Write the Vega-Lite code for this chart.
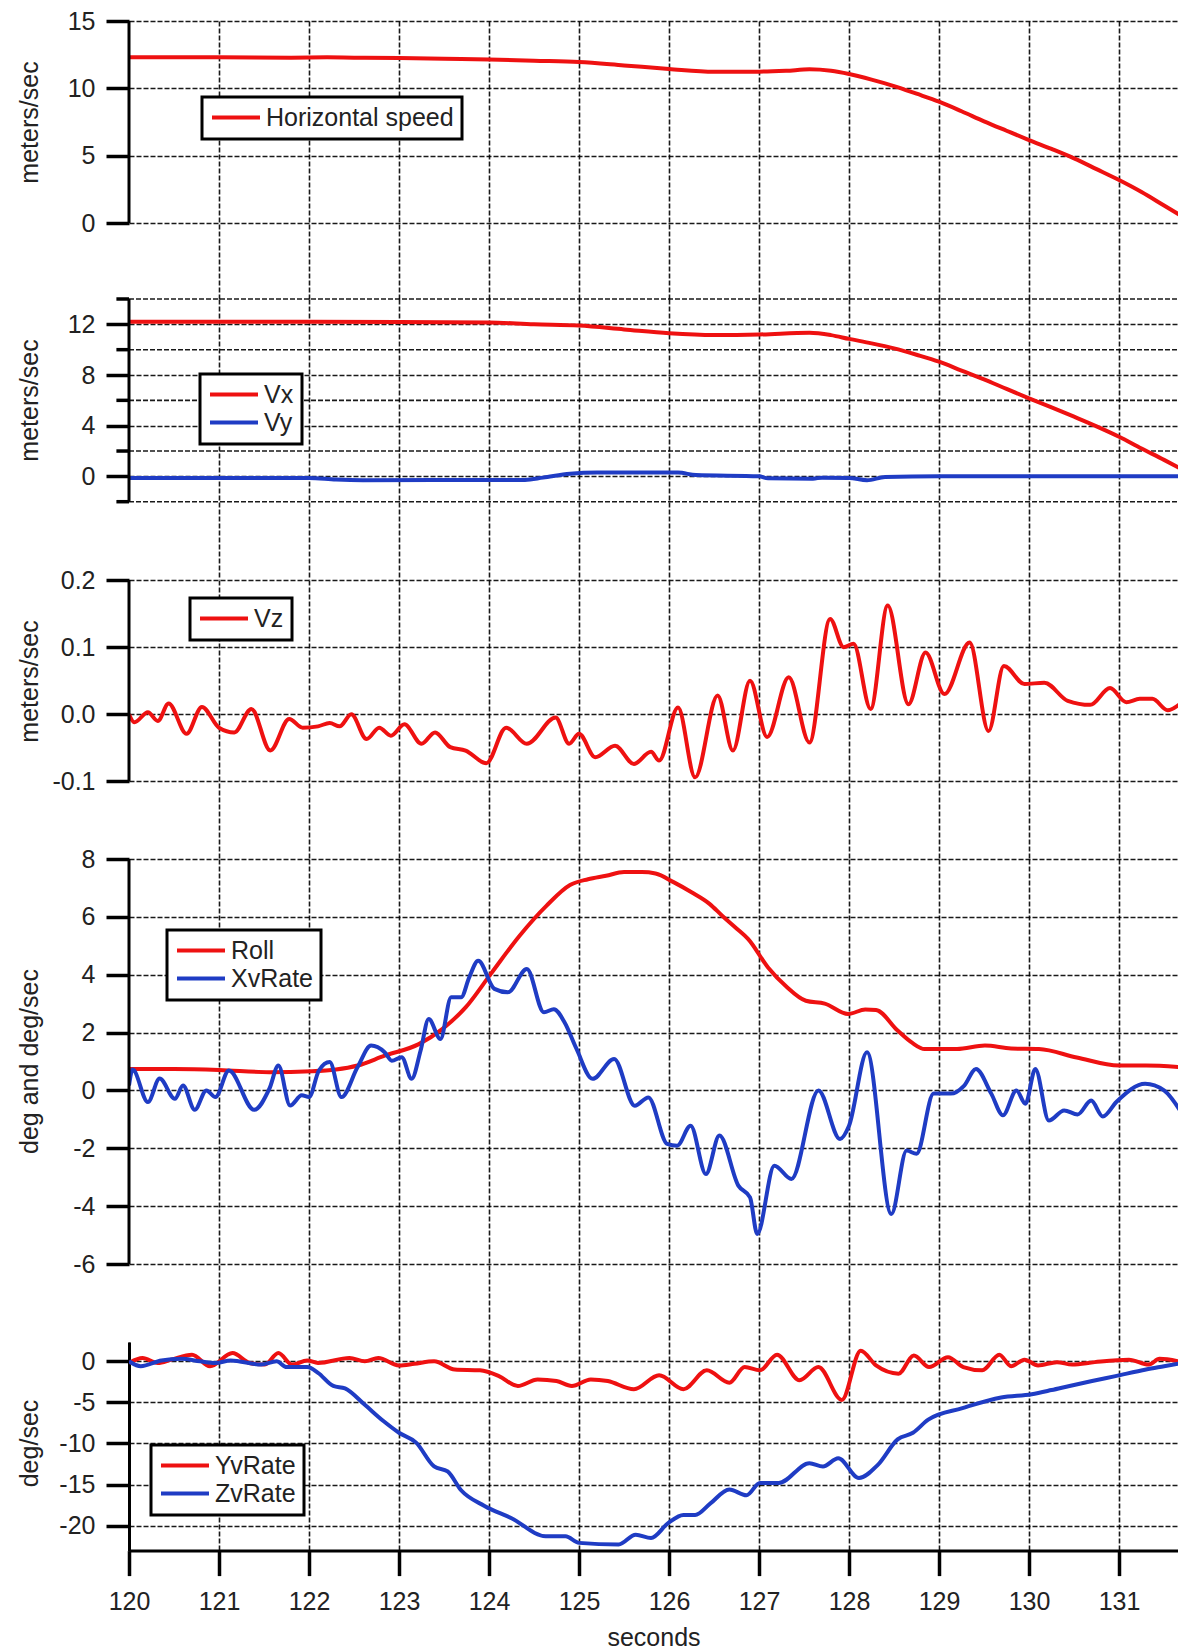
{
"$schema": "https://vega.github.io/schema/vega-lite/v6.json",
"padding": {"left": 16, "top": 9, "right": 0, "bottom": 0},
"background": "white",
"spacing": 0,
"bounds": "flush",
"resolve": {"scale": {"color": "independent", "x": "independent", "y": "independent"}, "legend": {"color": "independent"}},
"config": {
  "view": {"stroke": null},
  "font": "Liberation Sans",
  "axis": {"labelFont": "Liberation Sans", "labelFontSize": 25, "labelColor": "#222", "labelOverlap": false, "titleFont": "Liberation Sans", "titleFontSize": 25, "titleFontWeight": "normal", "titleColor": "#222", "tickColor": "black", "tickWidth": 3.5, "tickSize": 23, "domainColor": "black", "domainWidth": 3, "gridColor": "#000", "gridWidth": 1.6, "gridDash": [5, 2], "gridOpacity": 0.9, "labelPadding": 11, "labelExpr": "replace(datum.label, '\u2212', '-')"},
  "legend": {"symbolType": "stroke", "symbolSize": 2304, "symbolStrokeWidth": 4, "labelFont": "Liberation Sans", "labelFontSize": 25, "labelColor": "#222", "labelLimit": 400, "clipHeight": 25, "rowPadding": 2, "padding": 8, "strokeColor": "black", "fillColor": "white", "labelOffset": 4, "title": null}
},
"datasets": {
  "p1": [
    {"t": 120, "v": 12.3, "s": "Horizontal speed"}, {"t": 121, "v": 12.3, "s": "Horizontal speed"}, {"t": 121.8, "v": 12.28, "s": "Horizontal speed"}, {"t": 122.2, "v": 12.3, "s": "Horizontal speed"}, {"t": 122.5, "v": 12.27, "s": "Horizontal speed"}, {"t": 123, "v": 12.25, "s": "Horizontal speed"}, {"t": 123.5, "v": 12.2, "s": "Horizontal speed"}, {"t": 124, "v": 12.15, "s": "Horizontal speed"}, {"t": 124.5, "v": 12.05, "s": "Horizontal speed"}, {"t": 125, "v": 11.95, "s": "Horizontal speed"}, {"t": 125.5, "v": 11.7, "s": "Horizontal speed"}, {"t": 126, "v": 11.44, "s": "Horizontal speed"}, {"t": 126.5, "v": 11.24, "s": "Horizontal speed"}, {"t": 127, "v": 11.24, "s": "Horizontal speed"}, {"t": 127.3, "v": 11.3, "s": "Horizontal speed"}, {"t": 127.56, "v": 11.41, "s": "Horizontal speed"}, {"t": 127.8, "v": 11.3, "s": "Horizontal speed"}, {"t": 128, "v": 11.06, "s": "Horizontal speed"}, {"t": 128.25, "v": 10.65, "s": "Horizontal speed"}, {"t": 128.5, "v": 10.17, "s": "Horizontal speed"}, {"t": 128.75, "v": 9.6, "s": "Horizontal speed"}, {"t": 129, "v": 9.01, "s": "Horizontal speed"}, {"t": 129.25, "v": 8.3, "s": "Horizontal speed"}, {"t": 129.5, "v": 7.55, "s": "Horizontal speed"}, {"t": 129.75, "v": 6.85, "s": "Horizontal speed"}, {"t": 130, "v": 6.16, "s": "Horizontal speed"}, {"t": 130.25, "v": 5.5, "s": "Horizontal speed"}, {"t": 130.5, "v": 4.8, "s": "Horizontal speed"}, {"t": 130.75, "v": 4.0, "s": "Horizontal speed"}, {"t": 131, "v": 3.19, "s": "Horizontal speed"}, {"t": 131.25, "v": 2.3, "s": "Horizontal speed"}, {"t": 131.5, "v": 1.3, "s": "Horizontal speed"}, {"t": 131.7, "v": 0.5, "s": "Horizontal speed"}
  ],
  "p2minor": [{"m": -2}, {"m": 2}, {"m": 6}, {"m": 10}, {"m": 14}],
  "p2": [
    {"t": 120, "v": 12.2, "s": "Vx"}, {"t": 122, "v": 12.2, "s": "Vx"}, {"t": 123, "v": 12.18, "s": "Vx"}, {"t": 124, "v": 12.15, "s": "Vx"}, {"t": 124.5, "v": 12.0, "s": "Vx"}, {"t": 125, "v": 11.9, "s": "Vx"}, {"t": 125.5, "v": 11.6, "s": "Vx"}, {"t": 126, "v": 11.3, "s": "Vx"}, {"t": 126.5, "v": 11.16, "s": "Vx"}, {"t": 127, "v": 11.2, "s": "Vx"}, {"t": 127.56, "v": 11.34, "s": "Vx"}, {"t": 127.8, "v": 11.15, "s": "Vx"}, {"t": 128, "v": 10.85, "s": "Vx"}, {"t": 128.25, "v": 10.5, "s": "Vx"}, {"t": 128.5, "v": 10.1, "s": "Vx"}, {"t": 128.75, "v": 9.6, "s": "Vx"}, {"t": 129, "v": 9.05, "s": "Vx"}, {"t": 129.25, "v": 8.35, "s": "Vx"}, {"t": 129.5, "v": 7.66, "s": "Vx"}, {"t": 129.75, "v": 6.9, "s": "Vx"}, {"t": 130, "v": 6.16, "s": "Vx"}, {"t": 130.25, "v": 5.45, "s": "Vx"}, {"t": 130.5, "v": 4.71, "s": "Vx"}, {"t": 130.75, "v": 3.95, "s": "Vx"}, {"t": 131, "v": 3.13, "s": "Vx"}, {"t": 131.25, "v": 2.2, "s": "Vx"}, {"t": 131.5, "v": 1.3, "s": "Vx"}, {"t": 131.7, "v": 0.55, "s": "Vx"},
    {"t": 120, "v": -0.12, "s": "Vy"}, {"t": 122, "v": -0.12, "s": "Vy"}, {"t": 122.3, "v": -0.25, "s": "Vy"}, {"t": 122.6, "v": -0.3, "s": "Vy"}, {"t": 124.4, "v": -0.28, "s": "Vy"}, {"t": 124.6, "v": -0.1, "s": "Vy"}, {"t": 124.9, "v": 0.2, "s": "Vy"}, {"t": 125.2, "v": 0.3, "s": "Vy"}, {"t": 126.1, "v": 0.3, "s": "Vy"}, {"t": 126.3, "v": 0.1, "s": "Vy"}, {"t": 127.0, "v": 0.0, "s": "Vy"}, {"t": 127.1, "v": -0.15, "s": "Vy"}, {"t": 127.6, "v": -0.18, "s": "Vy"}, {"t": 127.7, "v": -0.1, "s": "Vy"}, {"t": 128.0, "v": -0.12, "s": "Vy"}, {"t": 128.2, "v": -0.3, "s": "Vy"}, {"t": 128.4, "v": -0.05, "s": "Vy"}, {"t": 129, "v": 0.0, "s": "Vy"}, {"t": 131.7, "v": 0.0, "s": "Vy"}
  ],
  "p3": [
    {"t": 120.0, "v": 0.0, "s": "Vz"}, {"t": 120.06, "v": -0.012, "s": "Vz"}, {"t": 120.21, "v": 0.003, "s": "Vz"}, {"t": 120.32, "v": -0.01, "s": "Vz"}, {"t": 120.44, "v": 0.016, "s": "Vz"}, {"t": 120.64, "v": -0.029, "s": "Vz"}, {"t": 120.81, "v": 0.011, "s": "Vz"}, {"t": 121.0, "v": -0.02, "s": "Vz"}, {"t": 121.17, "v": -0.027, "s": "Vz"}, {"t": 121.36, "v": 0.008, "s": "Vz"}, {"t": 121.57, "v": -0.054, "s": "Vz"}, {"t": 121.78, "v": -0.007, "s": "Vz"}, {"t": 121.93, "v": -0.02, "s": "Vz"}, {"t": 122.1, "v": -0.018, "s": "Vz"}, {"t": 122.23, "v": -0.013, "s": "Vz"}, {"t": 122.34, "v": -0.018, "s": "Vz"}, {"t": 122.47, "v": 0.0, "s": "Vz"}, {"t": 122.64, "v": -0.037, "s": "Vz"}, {"t": 122.78, "v": -0.02, "s": "Vz"}, {"t": 122.91, "v": -0.032, "s": "Vz"}, {"t": 123.06, "v": -0.015, "s": "Vz"}, {"t": 123.25, "v": -0.044, "s": "Vz"}, {"t": 123.4, "v": -0.027, "s": "Vz"}, {"t": 123.57, "v": -0.049, "s": "Vz"}, {"t": 123.74, "v": -0.054, "s": "Vz"}, {"t": 123.97, "v": -0.073, "s": "Vz"}, {"t": 124.19, "v": -0.02, "s": "Vz"}, {"t": 124.42, "v": -0.044, "s": "Vz"}, {"t": 124.74, "v": -0.005, "s": "Vz"}, {"t": 124.89, "v": -0.044, "s": "Vz"}, {"t": 125.0, "v": -0.029, "s": "Vz"}, {"t": 125.18, "v": -0.064, "s": "Vz"}, {"t": 125.4, "v": -0.047, "s": "Vz"}, {"t": 125.61, "v": -0.074, "s": "Vz"}, {"t": 125.8, "v": -0.056, "s": "Vz"}, {"t": 125.89, "v": -0.069, "s": "Vz"}, {"t": 126.1, "v": 0.01, "s": "Vz"}, {"t": 126.29, "v": -0.094, "s": "Vz"}, {"t": 126.54, "v": 0.028, "s": "Vz"}, {"t": 126.71, "v": -0.054, "s": "Vz"}, {"t": 126.9, "v": 0.05, "s": "Vz"}, {"t": 127.09, "v": -0.034, "s": "Vz"}, {"t": 127.33, "v": 0.055, "s": "Vz"}, {"t": 127.56, "v": -0.042, "s": "Vz"}, {"t": 127.79, "v": 0.142, "s": "Vz"}, {"t": 127.94, "v": 0.1, "s": "Vz"}, {"t": 128.05, "v": 0.105, "s": "Vz"}, {"t": 128.24, "v": 0.008, "s": "Vz"}, {"t": 128.43, "v": 0.162, "s": "Vz"}, {"t": 128.66, "v": 0.015, "s": "Vz"}, {"t": 128.85, "v": 0.092, "s": "Vz"}, {"t": 129.06, "v": 0.03, "s": "Vz"}, {"t": 129.34, "v": 0.107, "s": "Vz"}, {"t": 129.55, "v": -0.025, "s": "Vz"}, {"t": 129.72, "v": 0.072, "s": "Vz"}, {"t": 129.95, "v": 0.045, "s": "Vz"}, {"t": 130.17, "v": 0.047, "s": "Vz"}, {"t": 130.43, "v": 0.02, "s": "Vz"}, {"t": 130.68, "v": 0.014, "s": "Vz"}, {"t": 130.9, "v": 0.039, "s": "Vz"}, {"t": 131.08, "v": 0.018, "s": "Vz"}, {"t": 131.23, "v": 0.023, "s": "Vz"}, {"t": 131.37, "v": 0.023, "s": "Vz"}, {"t": 131.54, "v": 0.006, "s": "Vz"}, {"t": 131.7, "v": 0.018, "s": "Vz"}
  ],
  "p4": [
    {"t": 120.0, "v": 0.74, "s": "Roll"}, {"t": 120.5, "v": 0.74, "s": "Roll"}, {"t": 121.0, "v": 0.71, "s": "Roll"}, {"t": 121.56, "v": 0.63, "s": "Roll"}, {"t": 122.03, "v": 0.66, "s": "Roll"}, {"t": 122.3, "v": 0.72, "s": "Roll"}, {"t": 122.54, "v": 0.86, "s": "Roll"}, {"t": 122.84, "v": 1.2, "s": "Roll"}, {"t": 123.22, "v": 1.6, "s": "Roll"}, {"t": 123.48, "v": 2.12, "s": "Roll"}, {"t": 123.74, "v": 2.87, "s": "Roll"}, {"t": 124.02, "v": 4.03, "s": "Roll"}, {"t": 124.34, "v": 5.35, "s": "Roll"}, {"t": 124.64, "v": 6.39, "s": "Roll"}, {"t": 124.9, "v": 7.1, "s": "Roll"}, {"t": 125.1, "v": 7.3, "s": "Roll"}, {"t": 125.3, "v": 7.42, "s": "Roll"}, {"t": 125.5, "v": 7.55, "s": "Roll"}, {"t": 125.7, "v": 7.55, "s": "Roll"}, {"t": 125.85, "v": 7.5, "s": "Roll"}, {"t": 126.05, "v": 7.2, "s": "Roll"}, {"t": 126.25, "v": 6.85, "s": "Roll"}, {"t": 126.45, "v": 6.45, "s": "Roll"}, {"t": 126.59, "v": 6.04, "s": "Roll"}, {"t": 126.75, "v": 5.6, "s": "Roll"}, {"t": 126.88, "v": 5.23, "s": "Roll"}, {"t": 127.1, "v": 4.25, "s": "Roll"}, {"t": 127.3, "v": 3.6, "s": "Roll"}, {"t": 127.52, "v": 3.1, "s": "Roll"}, {"t": 127.73, "v": 3.0, "s": "Roll"}, {"t": 127.99, "v": 2.64, "s": "Roll"}, {"t": 128.18, "v": 2.8, "s": "Roll"}, {"t": 128.3, "v": 2.78, "s": "Roll"}, {"t": 128.54, "v": 2.07, "s": "Roll"}, {"t": 128.7, "v": 1.65, "s": "Roll"}, {"t": 128.84, "v": 1.43, "s": "Roll"}, {"t": 129.2, "v": 1.43, "s": "Roll"}, {"t": 129.51, "v": 1.55, "s": "Roll"}, {"t": 129.8, "v": 1.45, "s": "Roll"}, {"t": 130.11, "v": 1.43, "s": "Roll"}, {"t": 130.53, "v": 1.14, "s": "Roll"}, {"t": 131.0, "v": 0.86, "s": "Roll"}, {"t": 131.3, "v": 0.86, "s": "Roll"}, {"t": 131.7, "v": 0.8, "s": "Roll"},
    {"t": 120.0, "v": 0.17, "s": "XvRate"}, {"t": 120.04, "v": 0.72, "s": "XvRate"}, {"t": 120.21, "v": -0.4, "s": "XvRate"}, {"t": 120.34, "v": 0.41, "s": "XvRate"}, {"t": 120.51, "v": -0.29, "s": "XvRate"}, {"t": 120.6, "v": 0.17, "s": "XvRate"}, {"t": 120.73, "v": -0.67, "s": "XvRate"}, {"t": 120.86, "v": 0.0, "s": "XvRate"}, {"t": 120.96, "v": -0.23, "s": "XvRate"}, {"t": 121.11, "v": 0.69, "s": "XvRate"}, {"t": 121.39, "v": -0.67, "s": "XvRate"}, {"t": 121.56, "v": 0.06, "s": "XvRate"}, {"t": 121.66, "v": 0.86, "s": "XvRate"}, {"t": 121.79, "v": -0.52, "s": "XvRate"}, {"t": 121.92, "v": -0.17, "s": "XvRate"}, {"t": 122.0, "v": -0.23, "s": "XvRate"}, {"t": 122.11, "v": 0.69, "s": "XvRate"}, {"t": 122.23, "v": 0.98, "s": "XvRate"}, {"t": 122.36, "v": -0.23, "s": "XvRate"}, {"t": 122.54, "v": 0.81, "s": "XvRate"}, {"t": 122.69, "v": 1.55, "s": "XvRate"}, {"t": 122.84, "v": 1.32, "s": "XvRate"}, {"t": 122.92, "v": 1.03, "s": "XvRate"}, {"t": 123.03, "v": 1.15, "s": "XvRate"}, {"t": 123.14, "v": 0.4, "s": "XvRate"}, {"t": 123.24, "v": 1.38, "s": "XvRate"}, {"t": 123.33, "v": 2.47, "s": "XvRate"}, {"t": 123.46, "v": 1.78, "s": "XvRate"}, {"t": 123.58, "v": 3.22, "s": "XvRate"}, {"t": 123.69, "v": 3.22, "s": "XvRate"}, {"t": 123.78, "v": 3.91, "s": "XvRate"}, {"t": 123.88, "v": 4.48, "s": "XvRate"}, {"t": 124.06, "v": 3.51, "s": "XvRate"}, {"t": 124.21, "v": 3.39, "s": "XvRate"}, {"t": 124.42, "v": 4.2, "s": "XvRate"}, {"t": 124.61, "v": 2.7, "s": "XvRate"}, {"t": 124.72, "v": 2.81, "s": "XvRate"}, {"t": 124.84, "v": 2.35, "s": "XvRate"}, {"t": 124.97, "v": 1.45, "s": "XvRate"}, {"t": 125.15, "v": 0.4, "s": "XvRate"}, {"t": 125.39, "v": 1.09, "s": "XvRate"}, {"t": 125.62, "v": -0.53, "s": "XvRate"}, {"t": 125.77, "v": -0.24, "s": "XvRate"}, {"t": 125.98, "v": -1.85, "s": "XvRate"}, {"t": 126.09, "v": -1.91, "s": "XvRate"}, {"t": 126.24, "v": -1.22, "s": "XvRate"}, {"t": 126.41, "v": -2.89, "s": "XvRate"}, {"t": 126.56, "v": -1.56, "s": "XvRate"}, {"t": 126.77, "v": -3.29, "s": "XvRate"}, {"t": 126.9, "v": -3.7, "s": "XvRate"}, {"t": 126.98, "v": -4.96, "s": "XvRate"}, {"t": 127.17, "v": -2.6, "s": "XvRate"}, {"t": 127.36, "v": -3.06, "s": "XvRate"}, {"t": 127.66, "v": 0.0, "s": "XvRate"}, {"t": 127.9, "v": -1.68, "s": "XvRate"}, {"t": 128.0, "v": -1.22, "s": "XvRate"}, {"t": 128.2, "v": 1.32, "s": "XvRate"}, {"t": 128.47, "v": -4.27, "s": "XvRate"}, {"t": 128.64, "v": -2.08, "s": "XvRate"}, {"t": 128.75, "v": -2.19, "s": "XvRate"}, {"t": 128.94, "v": -0.11, "s": "XvRate"}, {"t": 129.13, "v": -0.11, "s": "XvRate"}, {"t": 129.28, "v": 0.17, "s": "XvRate"}, {"t": 129.41, "v": 0.74, "s": "XvRate"}, {"t": 129.58, "v": -0.11, "s": "XvRate"}, {"t": 129.71, "v": -0.86, "s": "XvRate"}, {"t": 129.86, "v": 0.0, "s": "XvRate"}, {"t": 129.96, "v": -0.46, "s": "XvRate"}, {"t": 130.07, "v": 0.74, "s": "XvRate"}, {"t": 130.22, "v": -1.04, "s": "XvRate"}, {"t": 130.39, "v": -0.69, "s": "XvRate"}, {"t": 130.54, "v": -0.83, "s": "XvRate"}, {"t": 130.69, "v": -0.35, "s": "XvRate"}, {"t": 130.82, "v": -0.9, "s": "XvRate"}, {"t": 130.97, "v": -0.4, "s": "XvRate"}, {"t": 131.29, "v": 0.23, "s": "XvRate"}, {"t": 131.5, "v": 0.0, "s": "XvRate"}, {"t": 131.7, "v": -0.8, "s": "XvRate"}
  ],
  "p5": [
    {"t": 120, "v": -0.2, "s": "YvRate"}, {"t": 120.15, "v": 0.4, "s": "YvRate"}, {"t": 120.32, "v": -0.2, "s": "YvRate"}, {"t": 120.47, "v": 0.2, "s": "YvRate"}, {"t": 120.7, "v": 0.8, "s": "YvRate"}, {"t": 120.9, "v": -0.6, "s": "YvRate"}, {"t": 121.15, "v": 1.0, "s": "YvRate"}, {"t": 121.34, "v": -0.2, "s": "YvRate"}, {"t": 121.51, "v": -0.4, "s": "YvRate"}, {"t": 121.66, "v": 1.0, "s": "YvRate"}, {"t": 121.81, "v": -0.4, "s": "YvRate"}, {"t": 121.98, "v": 0.1, "s": "YvRate"}, {"t": 122.1, "v": -0.2, "s": "YvRate"}, {"t": 122.45, "v": 0.4, "s": "YvRate"}, {"t": 122.62, "v": 0.0, "s": "YvRate"}, {"t": 122.77, "v": 0.4, "s": "YvRate"}, {"t": 123.0, "v": -0.5, "s": "YvRate"}, {"t": 123.17, "v": -0.3, "s": "YvRate"}, {"t": 123.39, "v": 0.0, "s": "YvRate"}, {"t": 123.62, "v": -1.0, "s": "YvRate"}, {"t": 123.9, "v": -1.1, "s": "YvRate"}, {"t": 124.11, "v": -1.8, "s": "YvRate"}, {"t": 124.32, "v": -3.0, "s": "YvRate"}, {"t": 124.54, "v": -2.2, "s": "YvRate"}, {"t": 124.75, "v": -2.4, "s": "YvRate"}, {"t": 124.92, "v": -3.0, "s": "YvRate"}, {"t": 125.13, "v": -2.2, "s": "YvRate"}, {"t": 125.32, "v": -2.4, "s": "YvRate"}, {"t": 125.61, "v": -3.4, "s": "YvRate"}, {"t": 125.89, "v": -1.7, "s": "YvRate"}, {"t": 126.16, "v": -3.4, "s": "YvRate"}, {"t": 126.42, "v": -1.1, "s": "YvRate"}, {"t": 126.67, "v": -2.6, "s": "YvRate"}, {"t": 126.84, "v": -0.7, "s": "YvRate"}, {"t": 127.01, "v": -1.1, "s": "YvRate"}, {"t": 127.2, "v": 0.8, "s": "YvRate"}, {"t": 127.45, "v": -2.3, "s": "YvRate"}, {"t": 127.66, "v": -0.7, "s": "YvRate"}, {"t": 127.92, "v": -4.7, "s": "YvRate"}, {"t": 128.13, "v": 1.3, "s": "YvRate"}, {"t": 128.3, "v": -0.5, "s": "YvRate"}, {"t": 128.55, "v": -1.5, "s": "YvRate"}, {"t": 128.72, "v": 0.7, "s": "YvRate"}, {"t": 128.89, "v": -0.7, "s": "YvRate"}, {"t": 129.1, "v": 0.5, "s": "YvRate"}, {"t": 129.27, "v": -0.7, "s": "YvRate"}, {"t": 129.48, "v": -1.1, "s": "YvRate"}, {"t": 129.67, "v": 0.8, "s": "YvRate"}, {"t": 129.8, "v": -0.6, "s": "YvRate"}, {"t": 129.95, "v": 0.2, "s": "YvRate"}, {"t": 130.1, "v": -0.5, "s": "YvRate"}, {"t": 130.31, "v": -0.1, "s": "YvRate"}, {"t": 130.48, "v": -0.4, "s": "YvRate"}, {"t": 130.73, "v": -0.1, "s": "YvRate"}, {"t": 131.11, "v": 0.2, "s": "YvRate"}, {"t": 131.33, "v": -0.4, "s": "YvRate"}, {"t": 131.45, "v": 0.3, "s": "YvRate"}, {"t": 131.7, "v": -0.1, "s": "YvRate"},
    {"t": 120, "v": 0.0, "s": "ZvRate"}, {"t": 120.13, "v": -0.6, "s": "ZvRate"}, {"t": 120.36, "v": 0.1, "s": "ZvRate"}, {"t": 120.58, "v": 0.3, "s": "ZvRate"}, {"t": 120.79, "v": 0.0, "s": "ZvRate"}, {"t": 120.96, "v": -0.2, "s": "ZvRate"}, {"t": 121.13, "v": 0.1, "s": "ZvRate"}, {"t": 121.47, "v": -0.4, "s": "ZvRate"}, {"t": 121.64, "v": 0.0, "s": "ZvRate"}, {"t": 121.75, "v": -0.7, "s": "ZvRate"}, {"t": 121.98, "v": -0.7, "s": "ZvRate"}, {"t": 122.1, "v": -1.4, "s": "ZvRate"}, {"t": 122.27, "v": -3.0, "s": "ZvRate"}, {"t": 122.4, "v": -3.3, "s": "ZvRate"}, {"t": 122.62, "v": -5.3, "s": "ZvRate"}, {"t": 122.83, "v": -7.3, "s": "ZvRate"}, {"t": 123.0, "v": -8.7, "s": "ZvRate"}, {"t": 123.19, "v": -9.9, "s": "ZvRate"}, {"t": 123.39, "v": -12.8, "s": "ZvRate"}, {"t": 123.54, "v": -13.4, "s": "ZvRate"}, {"t": 123.69, "v": -15.7, "s": "ZvRate"}, {"t": 123.95, "v": -17.6, "s": "ZvRate"}, {"t": 124.25, "v": -19.1, "s": "ZvRate"}, {"t": 124.63, "v": -21.3, "s": "ZvRate"}, {"t": 124.85, "v": -21.3, "s": "ZvRate"}, {"t": 125.0, "v": -22.1, "s": "ZvRate"}, {"t": 125.44, "v": -22.3, "s": "ZvRate"}, {"t": 125.63, "v": -21.1, "s": "ZvRate"}, {"t": 125.8, "v": -21.5, "s": "ZvRate"}, {"t": 125.99, "v": -19.7, "s": "ZvRate"}, {"t": 126.16, "v": -18.7, "s": "ZvRate"}, {"t": 126.29, "v": -18.7, "s": "ZvRate"}, {"t": 126.46, "v": -17.3, "s": "ZvRate"}, {"t": 126.67, "v": -15.6, "s": "ZvRate"}, {"t": 126.86, "v": -16.3, "s": "ZvRate"}, {"t": 127.01, "v": -14.8, "s": "ZvRate"}, {"t": 127.22, "v": -14.8, "s": "ZvRate"}, {"t": 127.56, "v": -12.4, "s": "ZvRate"}, {"t": 127.71, "v": -12.8, "s": "ZvRate"}, {"t": 127.88, "v": -11.8, "s": "ZvRate"}, {"t": 128.11, "v": -14.2, "s": "ZvRate"}, {"t": 128.32, "v": -12.6, "s": "ZvRate"}, {"t": 128.54, "v": -9.5, "s": "ZvRate"}, {"t": 128.71, "v": -8.7, "s": "ZvRate"}, {"t": 128.88, "v": -7.1, "s": "ZvRate"}, {"t": 129.26, "v": -5.7, "s": "ZvRate"}, {"t": 129.69, "v": -4.4, "s": "ZvRate"}, {"t": 130.03, "v": -4.0, "s": "ZvRate"}, {"t": 130.25, "v": -3.5, "s": "ZvRate"}, {"t": 130.45, "v": -3.0, "s": "ZvRate"}, {"t": 130.7, "v": -2.4, "s": "ZvRate"}, {"t": 130.96, "v": -1.8, "s": "ZvRate"}, {"t": 131.3, "v": -1.0, "s": "ZvRate"}, {"t": 131.5, "v": -0.6, "s": "ZvRate"}, {"t": 131.7, "v": -0.2, "s": "ZvRate"}
  ]
},
"vconcat": [
  {
    "width": 1049, "height": 278,
    "layer": [
      {"data": {"name": "p1"},
       "mark": {"type": "line", "strokeWidth": 4, "interpolate": "monotone", "clip": true},
       "encoding": {
         "x": {"field": "t", "type": "quantitative", "scale": {"domain": [120, 131.655], "nice": false, "zero": false}, "axis": {"values": [121,122,123,124,125,126,127,128,129,130,131], "grid": true, "labels": false, "ticks": false, "domain": false, "title": null}},
         "y": {"field": "v", "type": "quantitative", "scale": {"domain": [-5.643, 15], "nice": false, "zero": false}, "axis": {"values": [0,5,10,15], "grid": true, "domain": false, "title": "meters/sec", "titleX": -87, "titleY": 101, "titleBaseline": "bottom", "titleAngle": -90}},
         "color": {"field": "s", "type": "nominal", "scale": {"domain": ["Horizontal speed"], "range": ["#ee1111"]}, "legend": {"orient": "none", "legendX": 73, "legendY": 76, "encode": {"legend": {"update": {"strokeWidth": {"value": 3}}}}}}
       }},
      {"data": {"values": [{}]}, "mark": {"type": "rule", "strokeWidth": 3, "color": "black"},
       "encoding": {"x": {"datum": 120, "type": "quantitative"}, "y": {"datum": 15, "type": "quantitative"}, "y2": {"datum": 0}}}
    ]
  },
  {
    "width": 1049, "height": 280.3,
    "layer": [
      {"data": {"name": "p2minor"}, "mark": {"type": "rule", "strokeWidth": 1.6, "color": "#000", "opacity": 0.9, "strokeDash": [5, 2]},
       "encoding": {"x": {"datum": 120, "type": "quantitative"}, "x2": {"datum": 131.655}, "y": {"field": "m", "type": "quantitative"}}},
      {"data": {"name": "p2minor"}, "mark": {"type": "rule", "strokeWidth": 3.5, "color": "black"},
       "encoding": {"x": {"datum": 119.86, "type": "quantitative"}, "x2": {"datum": 120}, "y": {"field": "m", "type": "quantitative"}}},
      {"data": {"name": "p2"},
       "mark": {"type": "line", "strokeWidth": 4, "interpolate": "monotone", "clip": true},
       "encoding": {
         "x": {"field": "t", "type": "quantitative", "scale": {"domain": [120, 131.655], "nice": false, "zero": false}, "axis": {"values": [121,122,123,124,125,126,127,128,129,130,131], "grid": true, "labels": false, "ticks": false, "domain": false, "title": null}},
         "y": {"field": "v", "type": "quantitative", "scale": {"domain": [-8.125, 14], "nice": false, "zero": false}, "axis": {"values": [0,4,8,12], "grid": true, "domain": false, "title": "meters/sec", "titleX": -87, "titleY": 101, "titleBaseline": "bottom", "titleAngle": -90}},
         "color": {"field": "s", "type": "nominal", "scale": {"domain": ["Vx", "Vy"], "range": ["#ee1111", "#1f3cc4"]}, "legend": {"orient": "none", "legendX": 71, "legendY": 75, "encode": {"legend": {"update": {"strokeWidth": {"value": 3}}}}}}
       }},
      {"data": {"values": [{}]}, "mark": {"type": "rule", "strokeWidth": 3, "color": "black"},
       "encoding": {"x": {"datum": 120, "type": "quantitative"}, "y": {"datum": 14, "type": "quantitative"}, "y2": {"datum": -2}}}
    ]
  },
  {
    "width": 1049, "height": 279,
    "layer": [
      {"data": {"name": "p3"},
       "mark": {"type": "line", "strokeWidth": 4, "interpolate": "monotone", "clip": true},
       "encoding": {
         "x": {"field": "t", "type": "quantitative", "scale": {"domain": [120, 131.655], "nice": false, "zero": false}, "axis": {"values": [121,122,123,124,125,126,127,128,129,130,131], "grid": true, "labels": false, "ticks": false, "domain": false, "title": null}},
         "y": {"field": "v", "type": "quantitative", "scale": {"domain": [-0.2156, 0.2], "nice": false, "zero": false}, "axis": {"values": [-0.1, 0, 0.1, 0.2], "format": ".1f", "grid": true, "domain": false, "title": "meters/sec", "titleX": -87, "titleY": 101, "titleBaseline": "bottom", "titleAngle": -90}},
         "color": {"field": "s", "type": "nominal", "scale": {"domain": ["Vz"], "range": ["#ee1111"]}, "legend": {"orient": "none", "legendX": 61, "legendY": 18, "encode": {"legend": {"update": {"strokeWidth": {"value": 3}}}}}}
       }},
      {"data": {"values": [{}]}, "mark": {"type": "rule", "strokeWidth": 3, "color": "black"},
       "encoding": {"x": {"datum": 120, "type": "quantitative"}, "y": {"datum": 0.2, "type": "quantitative"}, "y2": {"datum": -0.1}}}
    ]
  },
  {
    "width": 1049, "height": 482.4,
    "layer": [
      {"data": {"name": "p4"},
       "mark": {"type": "line", "strokeWidth": 4, "interpolate": "monotone", "clip": true},
       "encoding": {
         "x": {"field": "t", "type": "quantitative", "scale": {"domain": [120, 131.655], "nice": false, "zero": false}, "axis": {"values": [121,122,123,124,125,126,127,128,129,130,131], "grid": true, "labels": false, "ticks": false, "domain": false, "title": null}},
         "y": {"field": "v", "type": "quantitative", "scale": {"domain": [-8.675, 8], "nice": false, "zero": false}, "axis": {"values": [-6,-4,-2,0,2,4,6,8], "grid": true, "domain": false, "title": "deg and deg/sec", "titleX": -87, "titleY": 202, "titleBaseline": "bottom", "titleAngle": -90}},
         "color": {"field": "s", "type": "nominal", "scale": {"domain": ["Roll", "XvRate"], "range": ["#ee1111", "#1f3cc4"]}, "legend": {"orient": "none", "legendX": 38, "legendY": 71, "encode": {"legend": {"update": {"strokeWidth": {"value": 3}}}}}}
       }},
      {"data": {"values": [{}]}, "mark": {"type": "rule", "strokeWidth": 3, "color": "black"},
       "encoding": {"x": {"datum": 120, "type": "quantitative"}, "y": {"datum": 8, "type": "quantitative"}, "y2": {"datum": -6}}}
    ]
  },
  {
    "width": 1049, "height": 208.6,
    "data": {"name": "p5"},
    "mark": {"type": "line", "strokeWidth": 4, "interpolate": "monotone", "clip": true},
    "encoding": {
      "x": {"field": "t", "type": "quantitative", "scale": {"domain": [120, 131.655], "nice": false, "zero": false}, "axis": {"values": [120,121,122,123,124,125,126,127,128,129,130,131], "grid": true, "labelFlush": false, "tickSize": 25, "labelPadding": 14, "title": "seconds", "titlePadding": 11}},
      "y": {"field": "v", "type": "quantitative", "scale": {"domain": [-23.04, 2.35], "nice": false, "zero": false}, "axis": {"values": [-20,-15,-10,-5,0], "grid": true, "domain": true, "title": "deg/sec", "titleX": -87, "titleY": 101, "titleBaseline": "bottom", "titleAngle": -90}},
      "color": {"field": "s", "type": "nominal", "scale": {"domain": ["YvRate", "ZvRate"], "range": ["#ee1111", "#1f3cc4"]}, "legend": {"orient": "none", "legendX": 22, "legendY": 103, "encode": {"legend": {"update": {"strokeWidth": {"value": 3}}}}}}
    }
  }
]
}
